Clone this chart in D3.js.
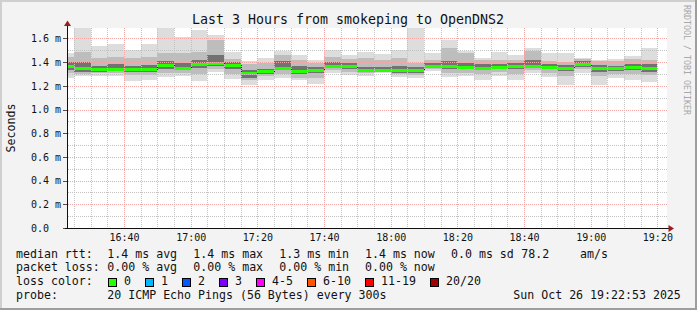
<!DOCTYPE html>
<html>
<head>
<meta charset="utf-8">
<title>Last 3 Hours from smokeping to OpenDNS2</title>
<script src="https://cdnjs.cloudflare.com/ajax/libs/d3/7.8.5/d3.min.js"></script>
<style>
  body { margin: 0; background: #fff; }
  text { font-family: "DejaVu Sans Mono", monospace; white-space: pre; }
</style>
</head>
<body>
<script>
// 5 minute steps (start of each step), Sun Oct 26 2025
var times = ["16:20","16:25","16:30","16:35","16:40","16:45","16:50","16:55",
             "17:00","17:05","17:10","17:15","17:20","17:25","17:30","17:35",
             "17:40","17:45","17:50","17:55","18:00","18:05","18:10","18:15",
             "18:20","18:25","18:30","18:35","18:40","18:45","18:50","18:55",
             "19:00","19:05","19:10","19:15"];

// rtt in ms
var median = [1.371,1.354,1.343,1.346,1.346,1.346,1.374,1.354,1.386,1.394,1.374,1.306,
              1.323,1.354,1.323,1.332,1.371,1.365,1.335,1.335,1.335,1.335,1.371,1.365,
              1.363,1.354,1.363,1.371,1.371,1.363,1.354,1.386,1.354,1.352,1.363,1.354];
var rttMax = [1.481,1.75,1.532,1.557,1.506,1.549,1.684,1.614,1.673,1.633,1.484,1.411,
              1.436,1.492,1.456,1.422,1.500,1.462,1.484,1.470,1.500,1.75,1.473,1.585,
              1.498,1.436,1.489,1.456,1.515,1.473,1.473,1.439,1.422,1.428,1.451,1.523];
var rttMin = [1.264,1.281,1.287,1.287,1.239,1.253,1.276,1.281,1.239,1.315,1.259,1.203,
              1.247,1.268,1.245,1.214,1.304,1.295,1.287,1.304,1.276,1.268,1.323,1.276,
              1.281,1.253,1.287,1.245,1.304,1.273,1.203,1.304,1.211,1.268,1.253,1.230];
var smokeHi = [1.447,1.489,1.433,1.447,1.439,1.447,1.475,1.475,1.489,1.590,1.428,1.382,
               1.391,1.462,1.419,1.391,1.447,1.430,1.433,1.420,1.439,1.391,1.419,1.523,
               1.478,1.422,1.422,1.422,1.492,1.408,1.399,1.428,1.408,1.408,1.428,1.422];
var smokeLo = [1.304,1.300,1.310,1.305,1.290,1.290,1.310,1.305,1.300,1.340,1.300,1.250,
               1.280,1.300,1.270,1.270,1.330,1.320,1.305,1.315,1.300,1.290,1.340,1.310,
               1.310,1.300,1.315,1.300,1.330,1.310,1.280,1.340,1.280,1.300,1.300,1.290];
var coreHi = [1.400,1.400,1.370,1.380,1.370,1.375,1.410,1.390,1.420,1.460,1.400,1.330,
              1.345,1.410,1.370,1.360,1.400,1.390,1.360,1.360,1.370,1.360,1.390,1.410,
              1.390,1.380,1.385,1.390,1.420,1.385,1.375,1.410,1.375,1.370,1.385,1.380];
var coreLo = [1.330,1.320,1.320,1.325,1.320,1.320,1.340,1.330,1.350,1.370,1.345,1.270,
              1.300,1.330,1.300,1.305,1.350,1.345,1.315,1.320,1.310,1.305,1.355,1.340,
              1.340,1.330,1.340,1.345,1.350,1.340,1.325,1.360,1.320,1.325,1.335,1.320];
var lossCount = [0,0,0,0,0,0,0,0,0,0,0,0,0,0,0,0,0,0,0,0,0,0,0,0,0,0,0,0,0,0,0,0,0,0,0,0];

var yTicks = [0, 0.2, 0.4, 0.6, 0.8, 1.0, 1.2, 1.4, 1.6];
var yTickLabels = ["0.0", "0.2 m", "0.4 m", "0.6 m", "0.8 m", "1.0 m", "1.2 m", "1.4 m", "1.6 m"];
var xTickLabels = ["16:40", "17:00", "17:20", "17:40", "18:00", "18:20", "18:40", "19:00", "19:20"];

var lossLabels = ["0", "1", "2", "3", "4-5", "6-10", "11-19", "20/20"];
var lossColors = ["#26ff00", "#00b8ff", "#0059ff", "#7e00ff", "#ff00ff", "#ff5500", "#ff0000", "#a10000"];

var rttLegend = ["median rtt:", "1.4 ms avg", "1.4 ms max", "1.3 ms min", "1.4 ms now", "0.0 ms sd", "78.2", "am/s"];
var lossLegend = ["packet loss:", "0.00 % avg", "0.00 % max", "0.00 % min", "0.00 % now"];
var probeLegend = ["probe:", "20 ICMP Echo Pings (56 Bytes) every 300s", "Sun Oct 26 19:22:53 2025"];

// ---------------------------------------------------------------
var W = 697, H = 310;
var pLeft = 67, pRight = 667, pTop = 28, pBottom = 228;

var parseT = d3.timeParse("%Y-%m-%d %H:%M");
var t0 = new Date(2025, 9, 26, 16, 22, 53),
    t1 = new Date(2025, 9, 26, 19, 22, 53);

var x = d3.scaleTime().domain([t0, t1]).range([pLeft, pRight]);
var y = d3.scaleLinear().domain([0, 1.688]).range([pBottom, pTop]);

var svg = d3.select("body").append("svg")
    .attr("width", W).attr("height", H)
    .attr("shape-rendering", "crispEdges");

// canvas + 3d frame
svg.append("rect").attr("width", W).attr("height", H).attr("fill", "#f3f3f3");
svg.append("path").attr("d", "M0,0H697V2H2V310H0Z").attr("fill", "#cfcfcf");
svg.append("path").attr("d", "M697,0V310H0V308H695V0Z").attr("fill", "#9e9e9e");

// plot background
svg.append("rect").attr("x", pLeft).attr("y", pTop)
    .attr("width", pRight - pLeft).attr("height", pBottom - pTop).attr("fill", "#fff");

svg.append("clipPath").attr("id", "plotclip").append("rect")
    .attr("x", pLeft).attr("y", pTop).attr("width", pRight - pLeft).attr("height", pBottom - pTop);

var data = times.map(function (t, i) {
  var s = parseT("2025-10-26 " + t);
  return {
    start: s, end: d3.timeMinute.offset(s, 5),
    med: median[i], max: rttMax[i], min: rttMin[i],
    hi2: smokeHi[i], lo2: smokeLo[i], hi3: coreHi[i], lo3: coreLo[i],
    loss: lossCount[i]
  };
});

var plot = svg.append("g").attr("clip-path", "url(#plotclip)");

// smoke
var levels = [["max", "min", "#dddddd"], ["hi2", "lo2", "#bdbdbd"], ["hi3", "lo3", "#727272"]];
levels.forEach(function (lv) {
  plot.append("g").selectAll("rect").data(data).enter().append("rect")
    .attr("x", function (d) { return Math.round(x(d.start)); })
    .attr("width", function (d) { return Math.round(x(d.end)) - Math.round(x(d.start)); })
    .attr("y", function (d) { return Math.round(y(d[lv[0]])); })
    .attr("height", function (d) { return Math.round(y(d[lv[1]])) - Math.round(y(d[lv[0]])); })
    .attr("fill", lv[2]);
});

// median: dark step line with loss coloured segments on top
var stepPts = data.map(function (d) { return [Math.round(x(d.start)) + 0.5, Math.round(y(d.med)) + 0.5]; });
stepPts.push([Math.round(x(data[data.length - 1].end)) + 0.5, Math.round(y(data[data.length - 1].med)) + 0.5]);
plot.append("path")
    .attr("d", d3.line().curve(d3.curveStepAfter)(stepPts))
    .attr("fill", "none").attr("stroke", "#202020").attr("stroke-width", 1);

function lossIndex(n) {
  if (n <= 3) return n;
  if (n <= 5) return 4;
  if (n <= 10) return 5;
  if (n <= 19) return 6;
  return 7;
}
plot.append("g").selectAll("rect").data(data).enter().append("rect")
    .attr("x", function (d) { return Math.round(x(d.start)); })
    .attr("width", function (d) { return Math.round(x(d.end)) - Math.round(x(d.start)); })
    .attr("y", function (d) { return Math.round(y(d.med)) - 1; })
    .attr("height", 3)
    .attr("fill", function (d) { return lossColors[lossIndex(d.loss)]; });

// dotted grid (1 px on / 1 px off), drawn over the data like rrdtool
var minorT = d3.timeMinute.every(5).range(t0, t1);
var majorT = d3.timeMinute.every(20).range(t0, t1);
var minorY = d3.range(1, 17).map(function (k) { return k / 10; });

function dotsPath(cols, rows) {
  var p = "";
  cols.forEach(function (c) {
    for (var r = pTop; r < pBottom; r += 2) p += "M" + c + "," + r + "h1v1h-1z";
  });
  rows.forEach(function (r) {
    for (var c = pLeft + 1; c <= pRight; c += 2) p += "M" + c + "," + r + "h1v1h-1z";
  });
  return p;
}
var colOf = function (t) { return Math.round(x(t)); };
var rowOf = function (v) { return Math.round(y(v)); };
var majorSet = majorT.map(colOf);
svg.append("path")
    .attr("d", dotsPath(minorT.map(colOf).filter(function (c) { return majorSet.indexOf(c) < 0; }),
                        minorY.filter(function (v) { return Math.abs(v * 5 - Math.round(v * 5)) > 1e-6; }).map(rowOf)))
    .attr("fill", "#c2c2c2");
svg.append("path")
    .attr("d", dotsPath(majorSet, yTicks.slice(1).map(rowOf)))
    .attr("fill", "#f2a6a6");

// y axis labels + ticks
var yAx = svg.append("g");
yAx.selectAll("rect").data(yTicks).enter().append("rect")
    .attr("x", pLeft - 4).attr("width", 4)
    .attr("y", function (d) { return Math.round(y(d)); }).attr("height", 1)
    .attr("fill", "#505050");
yAx.selectAll("text").data(yTicks).enter().append("text")
    .attr("x", 31)
    .attr("y", function (d) { return y(d) + 3.7; })
    .attr("font-size", "10px").attr("fill", "#111")
    .text(function (d, i) { return yTickLabels[i]; });

// x axis labels
svg.append("g").selectAll("text").data(majorT).enter().append("text")
    .attr("x", function (d) { return x(d) + 0.5; })
    .attr("y", 241)
    .attr("text-anchor", "middle")
    .attr("font-size", "10px").attr("fill", "#111")
    .text(function (d, i) { return xTickLabels[i]; });

// axes with arrows
var axisCol = "#101010", arrowCol = "#9b1c1c";
svg.append("rect").attr("x", pLeft).attr("y", 24).attr("width", 1).attr("height", pBottom - 23)
    .attr("fill", axisCol);
svg.append("rect").attr("x", pLeft - 2).attr("y", pBottom).attr("width", 670 - pLeft + 2).attr("height", 1)
    .attr("fill", axisCol);
svg.append("path").attr("shape-rendering", "auto")
    .attr("d", "M67.5,20.5L64,26L71,26Z").attr("fill", arrowCol);
svg.append("path").attr("shape-rendering", "auto")
    .attr("d", "M674,228.5L668.5,225L668.5,232Z").attr("fill", arrowCol);

// title and labels
svg.append("text").attr("x", 348).attr("y", 24).attr("text-anchor", "middle")
    .attr("font-size", "13.3px").attr("fill", "#111")
    .text("Last 3 Hours from smokeping to OpenDNS2");

svg.append("text").attr("transform", "translate(14.5,128) rotate(-90)")
    .attr("text-anchor", "middle").attr("font-size", "11.6px").attr("fill", "#111")
    .text("Seconds");

svg.append("text").attr("transform", "translate(683.5,5) rotate(90)")
    .attr("font-size", "8.3px").attr("fill", "#a8a8a8")
    .text("RRDTOOL / TOBI OETIKER");

// legend
var lg = svg.append("g").attr("font-size", "11.6px").attr("fill", "#111");
var colX = [16, 107.3, 193.3, 279.3, 365, 451, 521.3, 580];
rttLegend.forEach(function (s, i) {
  lg.append("text").attr("x", colX[i]).attr("y", 257.5).text(s);
});
lossLegend.forEach(function (s, i) {
  lg.append("text").attr("x", colX[i]).attr("y", 271.3).text(s);
});
lg.append("text").attr("x", 16).attr("y", 285.1).text("loss color:");
var boxX = [108, 145, 182, 219, 256, 307, 365, 430];
lossLabels.forEach(function (s, i) {
  lg.append("rect").attr("x", boxX[i]).attr("y", 278).attr("width", 9).attr("height", 9)
    .attr("fill", "#000");
  lg.append("rect").attr("x", boxX[i] + 1).attr("y", 279).attr("width", 7).attr("height", 7)
    .attr("fill", lossColors[i]);
  lg.append("text").attr("x", boxX[i] + 16).attr("y", 285.1).text(s);
});
var probeX = [16, 107.3, 513.3];
probeLegend.forEach(function (s, i) {
  lg.append("text").attr("x", probeX[i]).attr("y", 299).text(s);
});
</script>
</body>
</html>
